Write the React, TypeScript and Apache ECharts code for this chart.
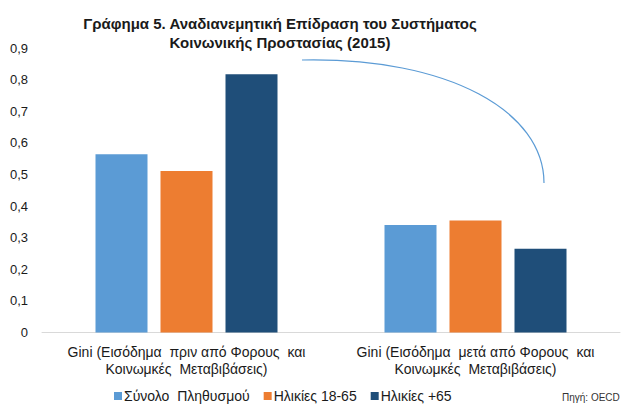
import React, { useEffect, useRef } from "react";
import * as echarts from "echarts";

const categories = [
  "Gini (Εισόδημα  πριν από Φορους  και\nΚοινωμκές  Μεταβιβάσεις)",
  "Gini (Εισόδημα  μετά από Φορους  και\nΚοινωμκές  Μεταβιβάσεις)",
];
const seriesNames = ["Σύνολο  Πληθυσμού", "Ηλικίες 18-65", "Ηλικίες +65"];
const totalPop = [0.564, 0.34];
const ages18to65 = [0.511, 0.354];
const ages65plus = [0.817, 0.265];
const colors = ["#5B9BD5", "#ED7D31", "#1F4E79"];
const titleText = "Γράφημα 5. Αναδιανεμητική Επίδραση του Συστήματος\nΚοινωνικής Προστασίας (2015)";
const sourceText = "Πηγή: OECD";

export default function App() {
  const ref = useRef<HTMLDivElement>(null);
  useEffect(() => {
    document.body.style.margin = "0";
    const chart = echarts.init(ref.current!, null, { renderer: "svg" });
    const font = "'Liberation Sans', Arial, sans-serif";
    const values = [totalPop, ages18to65, ages65plus];
    chart.setOption({
      animation: false,
      textStyle: { fontFamily: font },
      title: {
        text: titleText,
        left: 275,
        textAlign: "center",
        top: 9,
        textStyle: { fontSize: 15, fontWeight: "bold", color: "#1a1a1a", lineHeight: 19, fontFamily: font },
      },
      legend: {
        left: 109,
        top: 384,
        itemWidth: 8,
        itemHeight: 8,
        itemGap: 14,
        icon: "rect",
        textStyle: { fontSize: 14, color: "#1a1a1a", fontFamily: font, padding: [0, 0, 0, -3] },
        data: seriesNames,
      },
      grid: { left: 42, right: 2, top: 48, bottom: 72.5 },
      xAxis: {
        type: "category",
        data: categories,
        axisLine: { lineStyle: { color: "#d9d9d9" } },
        axisTick: { show: false },
        axisLabel: {
          interval: 0,
          fontSize: 14,
          lineHeight: 17,
          margin: 11,
          color: "#1a1a1a",
          fontFamily: font,
        },
      },
      yAxis: {
        type: "value",
        min: 0,
        max: 0.9,
        interval: 0.1,
        splitLine: { show: false },
        axisLine: { show: false },
        axisTick: { show: false },
        axisLabel: {
          fontSize: 13,
          margin: 14,
          color: "#1a1a1a",
          fontFamily: font,
          formatter: (v: number) => (v === 0 ? "0" : v.toFixed(1).replace(".", ",")),
        },
      },
      series: seriesNames.map((name, i) => ({
        name,
        type: "bar",
        data: values[i],
        barWidth: 52,
        barGap: "25%",
        itemStyle: { color: colors[i] },
      })),
      graphic: [
        {
          type: "bezierCurve",
          shape: { x1: 302, y1: 60, cpx1: 450, cpy1: 57, cpx2: 544, cpy2: 112, x2: 544, y2: 183 },
          style: { stroke: "#5B9BD5", lineWidth: 1.2, fill: null },
        },
        {
          type: "text",
          left: 562,
          top: 392,
          style: { text: sourceText, fontSize: 10, fill: "#333", fontFamily: font },
        },
      ],
    });
    return () => chart.dispose();
  }, []);
  return <div ref={ref} style={{ width: 622, height: 405 }} />;
}
